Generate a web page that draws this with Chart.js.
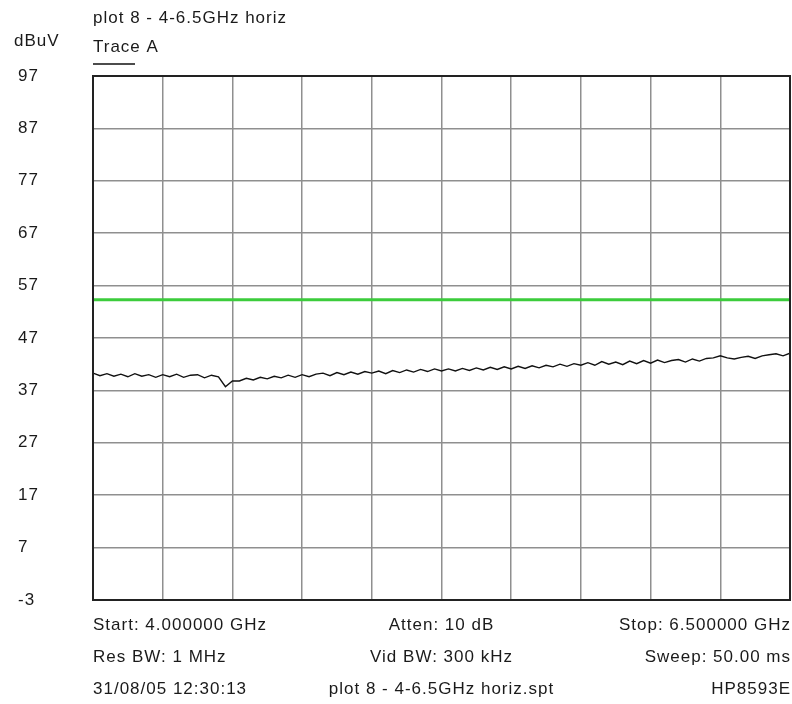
<!DOCTYPE html>
<html>
<head>
<meta charset="utf-8">
<script src="https://cdn.jsdelivr.net/npm/chart.js@4/dist/chart.umd.min.js"></script>
<style>
  html, body { margin: 0; padding: 0; background: #fff; }
  canvas { display: block; }
</style>
</head>
<body>
<canvas id="specChart" width="792" height="704"></canvas>
<script>
// sweep settings (GHz)
const startGHz = 4.0;
const stopGHz = 6.5;

// trace A levels (dBuV), one per sweep point
const traceA = [
  40.3, 39.8, 40.2, 39.7, 40.1, 39.6, 40.2, 39.7, 40.0, 39.5, 40.0,
  39.6, 40.1, 39.5, 39.9, 40.0, 39.4, 39.9, 39.6, 37.7, 38.8,
  38.8, 39.3, 39.0, 39.5, 39.2, 39.7, 39.4, 39.9, 39.5, 40.0,
  39.6, 40.1, 40.3, 39.8, 40.4, 40.0, 40.5, 40.1, 40.6, 40.3,
  40.7, 40.2, 40.8, 40.4, 40.9, 40.5, 41.0, 40.6, 41.1, 40.7,
  41.1, 40.7, 41.2, 40.8, 41.3, 40.9, 41.4, 41.0, 41.5, 41.1,
  41.6, 41.2, 41.7, 41.3, 41.8, 41.5, 42.0, 41.6, 42.1, 41.8,
  42.3, 41.8, 42.5, 42.0, 42.4, 41.9, 42.6, 42.1, 42.7, 42.2,
  42.8, 42.3, 42.7, 42.9, 42.4, 43.0, 42.6, 43.1, 43.2, 43.6,
  43.2, 43.0, 43.3, 43.5, 43.1, 43.6, 43.8, 44.0, 43.6, 44.1
];

// limit line (dBuV)
const limitLevel = 54.3;

// axis ticks
const yMin = -3, yMax = 97, yStep = 10;
const xStep = 0.25;

// footer text rows: [left, centre, right]
const footerRows = [
  ['Start: 4.000000 GHz', 'Atten: 10 dB', 'Stop: 6.500000 GHz'],
  ['Res BW: 1 MHz', 'Vid BW: 300 kHz', 'Sweep: 50.00 ms'],
  ['31/08/05 12:30:13', 'plot 8 - 4-6.5GHz horiz.spt', 'HP8593E']
];
const plotTitle = 'plot 8 - 4-6.5GHz horiz';
const traceLabel = 'Trace A';
const unitLabel = 'dBuV';

// evenly spaced sweep points
const step = (stopGHz - startGHz) / (traceA.length - 1);
const tracePoints = traceA.map((v, i) => ({ x: startGHz + i * step, y: v }));
const limitPoints = [{ x: startGHz, y: limitLevel }, { x: stopGHz, y: limitLevel }];

const FONT = '17px "Liberation Sans", Arial, sans-serif';
const TEXT = '#1a1a1a';

const textPlugin = {
  id: 'analyzerText',
  afterDraw(chart) {
    const ctx = chart.ctx;
    const area = chart.chartArea;
    const y = chart.scales.y;
    ctx.save();
    // dark frame
    ctx.strokeStyle = '#222';
    ctx.lineWidth = 2;
    ctx.strokeRect(area.left, area.top, area.right - area.left, area.bottom - area.top);

    ctx.font = FONT;
    ctx.fillStyle = TEXT;
    ctx.textBaseline = 'middle';
    ctx.letterSpacing = '1px';

    // y tick labels
    ctx.textAlign = 'left';
    y.ticks.forEach(t => {
      ctx.fillText(String(t.value), 18, y.getPixelForValue(t.value));
    });

    ctx.fillText(unitLabel, 14, 41);
    ctx.fillText(plotTitle, area.left, 18);
    ctx.fillText(traceLabel, area.left, 47);

    // trace legend underline
    ctx.strokeStyle = '#111';
    ctx.lineWidth = 1.5;
    ctx.beginPath();
    ctx.moveTo(area.left, 64);
    ctx.lineTo(area.left + 42, 64);
    ctx.stroke();

    // footer
    const mid = (area.left + area.right) / 2;
    footerRows.forEach((row, i) => {
      const ty = 625 + i * 32;
      ctx.textAlign = 'left';
      ctx.fillText(row[0], area.left, ty);
      ctx.textAlign = 'center';
      ctx.fillText(row[1], mid, ty);
      ctx.textAlign = 'right';
      ctx.fillText(row[2], area.right + 1, ty);
    });
    ctx.restore();
  }
};

new Chart(document.getElementById('specChart'), {
  type: 'line',
  data: {
    datasets: [
      {
        label: 'Limit',
        data: limitPoints,
        borderColor: '#3ccc3c',
        borderWidth: 3,
        pointRadius: 0
      },
      {
        label: traceLabel,
        data: tracePoints,
        borderColor: '#111',
        borderWidth: 1.4,
        pointRadius: 0,
        tension: 0
      }
    ]
  },
  options: {
    responsive: false,
    animation: false,
    layout: { padding: { left: 93, right: 2, top: 76, bottom: 104 } },
    plugins: { legend: { display: false }, tooltip: { enabled: false } },
    scales: {
      x: {
        type: 'linear',
        min: startGHz,
        max: stopGHz,
        ticks: { display: false, stepSize: xStep },
        grid: { color: '#8f8f8f', lineWidth: 1.5, drawTicks: false },
        border: { display: false },
        afterFit(scale) { scale.height = 0; }
      },
      y: {
        min: yMin,
        max: yMax,
        ticks: { display: false, stepSize: yStep },
        grid: { color: '#8f8f8f', lineWidth: 1.5, drawTicks: false },
        border: { display: false },
        afterFit(scale) { scale.width = 0; }
      }
    }
  },
  plugins: [textPlugin]
});
</script>
</body>
</html>
